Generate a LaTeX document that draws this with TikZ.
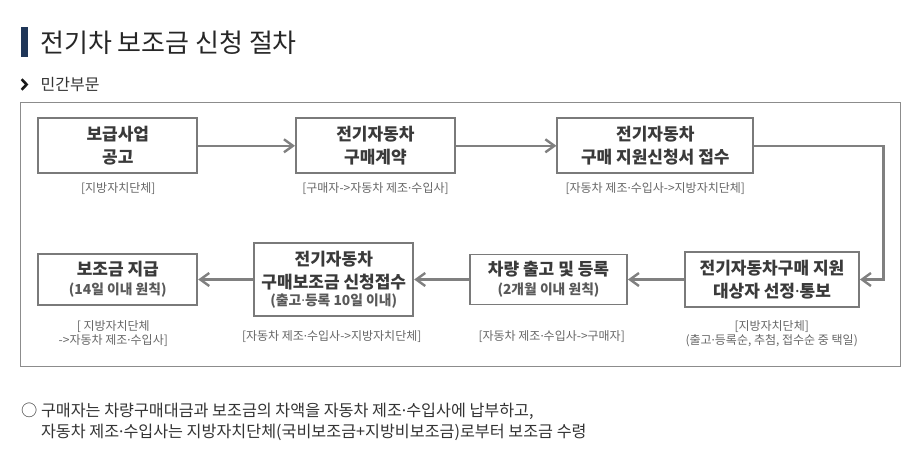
\documentclass[tikz,border=0pt]{standalone}
\usepackage{fontspec}
\setmainfont{Noto Sans CJK KR}
\newfontfamily\latinfont{Noto Sans}
\usepackage{tikz}
\usetikzlibrary{arrows.meta, positioning}

\definecolor{navy}{HTML}{1F3658}
\definecolor{boxline}{HTML}{7A7A7A}
\definecolor{frameline}{HTML}{8C8C8C}
\definecolor{arrline}{HTML}{808080}
\definecolor{txtdark}{HTML}{3A3A3A}
\definecolor{txtsub}{HTML}{5A5A5A}
\definecolor{txtinfo}{HTML}{666666}

\newcommand{\boxfont}{\fontsize{17}{23}\selectfont\bfseries}
\newcommand{\subfont}{\fontsize{13.8}{23}\selectfont\bfseries\color{txtsub}}
\newcommand{\infofont}{\fontsize{12}{14.3}\selectfont}
\newcommand{\md}{{\latinfont ·}}

\begin{document}
\begin{tikzpicture}[x=1pt, y=-1pt,
    stepbox/.style={draw=boxline, line width=1.8pt, fill=white, align=center,
        inner sep=0pt, text=txtdark, font=\boxfont},
    arr/.style={-{Straight Barb[length=9pt,width=13pt]}, line width=2.4pt, arrline},
    info/.style={align=center, inner sep=0pt, text=txtinfo, font=\infofont}
]

    \useasboundingbox (0,0) rectangle (906,455);

    % Heading
    \fill[navy] (20.7,27.3) rectangle (28.3,56.7);
    \node[anchor=west, inner sep=0pt, text=black!85, font=\fontsize{26}{30}\selectfont] (title) at (40,42.5) {전기차 보조금 신청 절차};

    \draw[line width=2.6pt, black!90] (21.6,79.2) -- (26.6,84.5) -- (21.6,89.8);
    \node[anchor=west, inner sep=0pt, text=black!80, font=\fontsize{16}{19}\selectfont] (section) at (40.5,84.5) {민간부문};

    % Frame
    \draw[frameline, line width=1.2pt] (20.7,102.7) rectangle (900.3,366.7);

    % Upper row
    \node[stepbox, minimum width=159pt, minimum height=55pt] (notice) at (117.8,145.8) {보급사업\\공고};
    \node[stepbox, minimum width=159pt, minimum height=55pt] (contract) at (375.4,145.8) {전기자동차\\구매계약};
    \node[stepbox, minimum width=196pt, minimum height=55pt] (apply) at (655.3,145.8) {전기자동차\\구매 지원신청서 접수};

    \node[info] (noticeinfo) at (118.3,188.3) {[지방자치단체]};
    \node[info] (contractinfo) at (375.5,188.3) {[구매자->자동차 제조\md 수입사]};
    \node[info] (applyinfo) at (655.3,188.3) {[자동차 제조\md 수입사->지방자치단체]};

    % Lower row
    \node[stepbox, minimum width=174pt, minimum height=55pt] (select) at (772,279.5) {전기자동차구매 지원\\대상자 선정\md 통보};
    \node[stepbox, minimum width=157pt, minimum height=50pt] (deliver) at (548.5,279.5) {차량 출고 및 등록\\[-4pt]{\subfont (2개월 이내 원칙)}};
    \node[stepbox, minimum width=159pt, minimum height=73pt] (claim) at (333.8,279.5) {전기자동차\\구매보조금 신청접수\\[-5.5pt]{\subfont (출고\md 등록 10일 이내)}};
    \node[stepbox, minimum width=159pt, minimum height=51pt] (pay) at (117.8,279.5) {보조금 지급\\[-4pt]{\subfont (14일 이내 원칙)}};

    \node[info] (selectinfo) at (771.7,333.8) {[지방자치단체]\\(출고\md 등록순, 추첨, 접수순 중 택일)};
    \node[info] (deliverinfo) at (551.7,336.7) {[자동차 제조\md 수입사->구매자]};
    \node[info] (claiminfo) at (331.7,336.7) {[자동차 제조\md 수입사->지방자치단체]};
    \node[info] (payinfo) at (113.3,333.8) {[ 지방자치단체\\->자동차 제조\md 수입사]};

    % Connectors
    \coordinate (turn) at (883.3,145.8);
    \draw[arr] (notice.east) -- (contract.west);
    \draw[arr] (contract.east) -- (apply.west);
    \draw[arr] (apply.east) -- (turn) |- (select.east);
    \draw[arr] (select.west) -- (deliver.east);
    \draw[arr] (deliver.west) -- (claim.east);
    \draw[arr] (claim.west) -- (pay.east);

    % Note
    \node[anchor=north west, align=left, inner sep=0pt, text=black!80, font=\fontsize{16.2}{21}\selectfont] (note) at (21,402.5) {○ 구매자는 차량구매대금과 보조금의 차액을 자동차 제조\md 수입사에 납부하고,\\\phantom{○ }자동차 제조\md 수입사는 지방자치단체(국비보조금+지방비보조금)로부터 보조금 수령};

\end{tikzpicture}
\end{document}
